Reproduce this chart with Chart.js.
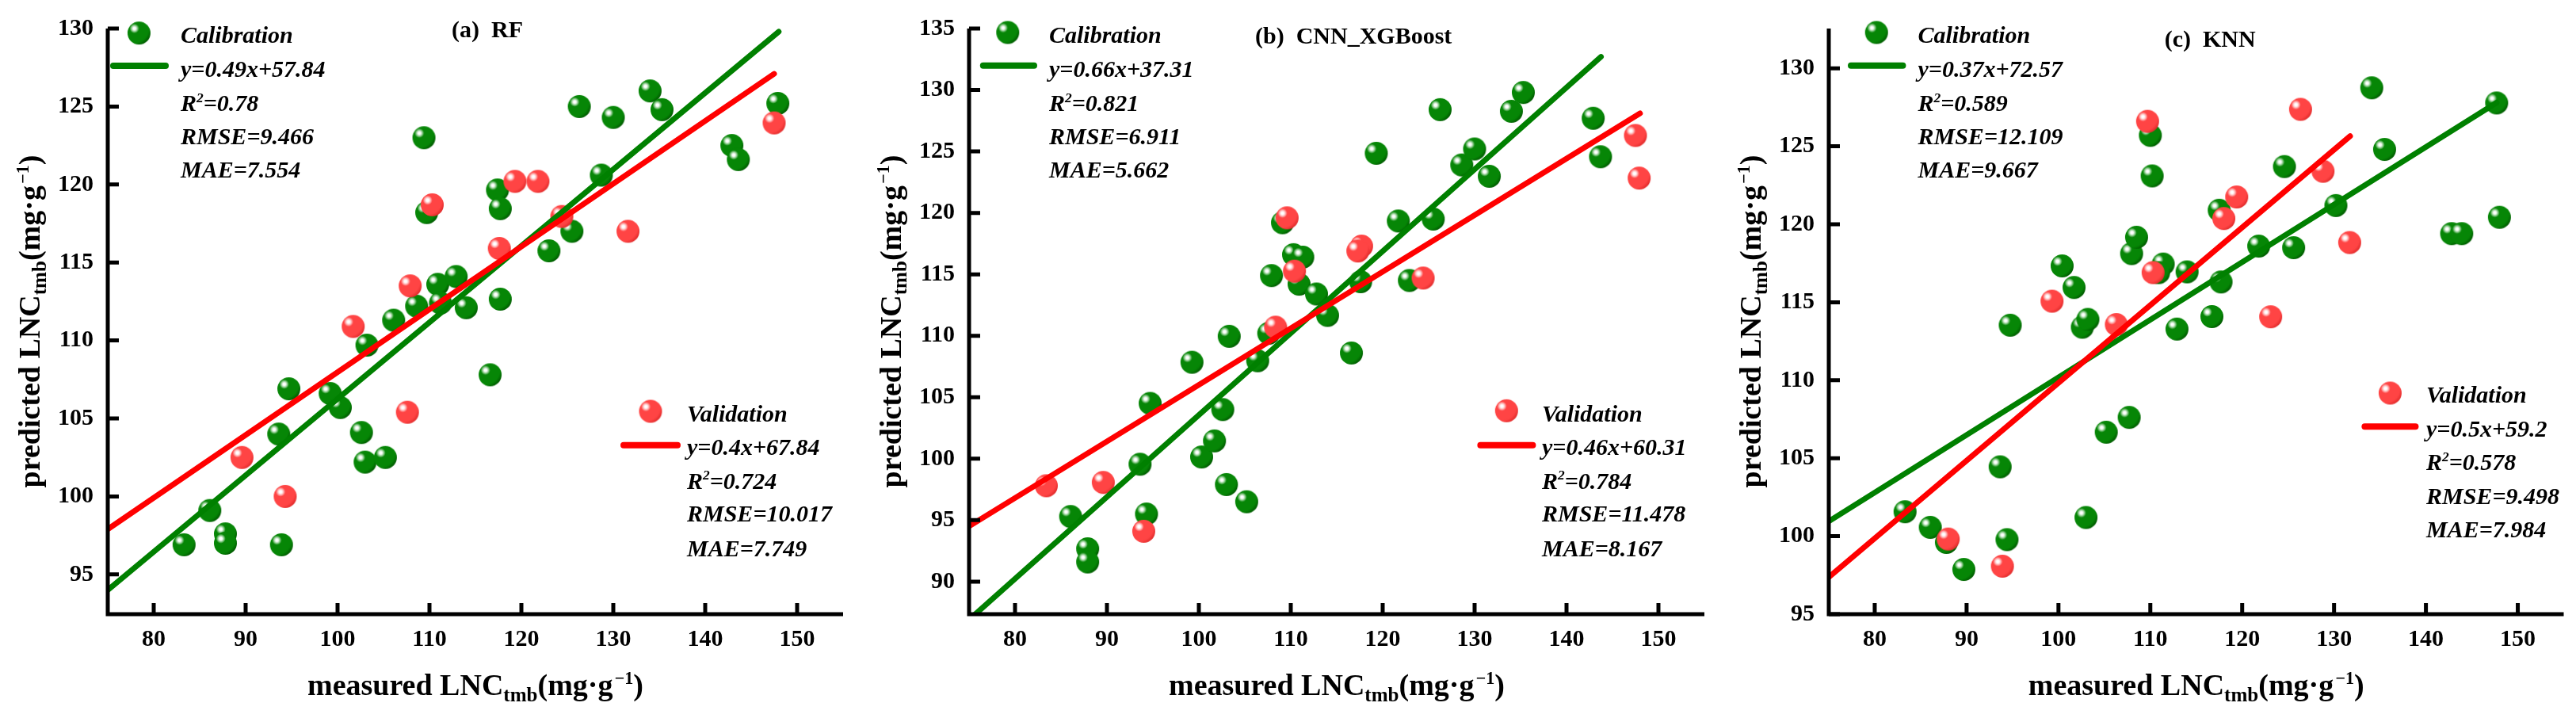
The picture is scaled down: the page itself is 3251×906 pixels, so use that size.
<!DOCTYPE html>
<html>
<head>
<meta charset="utf-8">
<title>LNC scatter</title>
<script src="https://cdn.jsdelivr.net/npm/chart.js@4.4.1/dist/chart.umd.min.js"></script>
<style>
  html, body { margin: 0; padding: 0; background: #fff; }
  body { width: 3251px; height: 906px; position: relative; overflow: hidden; }
  .panel { position: absolute; top: 0; height: 906px; }
</style>
</head>
<body>
<div class="panel" style="left:0px"><canvas id="chartA" width="1085" height="906"></canvas></div>
<div class="panel" style="left:1085px"><canvas id="chartB" width="1085" height="906"></canvas></div>
<div class="panel" style="left:2170px"><canvas id="chartC" width="1081" height="906"></canvas></div>
<script>
// ---------- data ----------
const xTicks = [80, 90, 100, 110, 120, 130, 140, 150];
const yTicksA = [95, 100, 105, 110, 115, 120, 125, 130];
const yTicksB = [90, 95, 100, 105, 110, 115, 120, 125, 130, 135];
const yTicksC = [95, 100, 105, 110, 115, 120, 125, 130];

// (a) RF
const calXA = [83.3, 86.1, 87.8, 87.8, 93.9, 93.6, 94.7, 99.2, 100.3, 102.6, 103.0, 105.2, 103.2, 106.1, 108.6, 110.9, 111.2, 112.9,
  114.0, 109.4, 109.7, 117.4, 117.7, 117.7, 116.6, 123.0, 125.5, 128.7, 126.3, 130.0, 134.0, 135.3, 142.9, 143.6, 147.9];
const calYA = [96.9, 99.1, 97.6, 97.0, 96.9, 104.0, 106.9, 106.6, 105.7, 104.1, 102.2, 102.5, 109.7, 111.3, 112.2, 113.6, 112.4, 114.1,
  112.1, 123.0, 118.2, 119.65, 118.45, 112.65, 107.8, 115.75, 117.0, 120.6, 125.0, 124.3, 126.0, 124.8, 122.5, 121.6, 125.2];
const valXA = [89.6, 94.3, 101.7, 107.6, 107.9, 110.3, 117.6, 119.3, 121.8, 124.4, 131.6, 147.5];
const valYA = [102.5, 100.0, 110.9, 105.4, 113.5, 118.7, 115.9, 120.2, 120.2, 117.95, 117.0, 123.95];
const calLineXA = [75, 148.0];
const calLineYA = [94.0, 129.8];
const valLineXA = [75, 147.5];
const valLineYA = [97.9, 127.1];
const calStatsA = ['y=0.49x+57.84', '0.78', '9.466', '7.554'];
const valStatsA = ['y=0.4x+67.84', '0.724', '10.017', '7.749'];

// (b) CNN_XGBoost
const calXB = [86.05, 87.9, 87.9, 93.6, 94.7, 94.3, 99.25, 100.3, 101.7, 102.6, 103.0, 105.2, 103.3, 106.4, 107.6, 107.9, 109.1, 110.3,
  111.3, 110.9, 112.8, 114.0, 116.6, 117.6, 122.9, 121.7, 125.5, 119.3, 126.25, 128.6, 130.0, 131.6, 134.0, 135.3, 142.9, 143.7];
const calYB = [95.3, 92.67, 91.6, 99.55, 104.5, 95.5, 107.85, 100.14, 101.45, 104.0, 97.9, 96.5, 109.96, 107.97, 110.2, 114.9, 119.2, 116.6,
  116.4, 114.2, 113.4, 111.66, 108.6, 114.4, 114.5, 119.34, 119.5, 124.85, 128.4, 123.9, 125.2, 122.98, 128.27, 129.8, 127.7, 124.57];
const valXB = [83.4, 89.6, 94.0, 108.35, 109.6, 110.4, 117.7, 117.3, 124.4, 147.5, 147.9];
const valYB = [97.8, 98.07, 94.1, 110.7, 119.6, 115.26, 117.3, 116.9, 114.7, 126.3, 122.83];
const calLineXB = [75, 143.75];
const calLineYB = [86.9, 132.7];
const valLineXB = [75, 148.0];
const valLineYB = [94.5, 128.1];
const calStatsB = ['y=0.66x+37.31', '0.821', '6.911', '5.662'];
const valStatsB = ['y=0.46x+60.31', '0.784', '11.478', '8.167'];

// (c) KNN
const calXC = [83.3, 86.05, 87.8, 89.7, 93.65, 94.4, 103.0, 105.2, 107.7, 94.75, 100.4, 101.7, 102.6, 103.2, 107.96, 108.5, 110.0, 110.2,
  111.4, 110.9, 114.0, 117.7, 121.8, 125.6, 130.2, 117.5, 124.6, 134.1, 135.5, 147.7, 142.8, 143.9, 148.0, 116.7, 112.9];
const calYC = [101.57, 100.57, 99.6, 97.87, 104.45, 99.78, 101.2, 106.67, 107.62, 113.53, 117.33, 115.95, 113.4, 113.9, 118.12, 119.17, 125.7, 123.1,
  117.45, 116.9, 116.95, 116.3, 118.6, 118.5, 121.2, 120.9, 123.7, 128.75, 124.8, 127.78, 119.4, 119.4, 120.45, 114.08, 113.28];
const valXC = [88.0, 93.9, 99.3, 106.3, 109.7, 110.3, 118.0, 119.4, 126.35, 128.8, 131.7, 123.1];
const valYC = [99.82, 98.08, 115.07, 113.57, 126.6, 116.9, 120.37, 121.75, 127.37, 123.4, 118.83, 114.07];
const calLineXC = [75, 147.7];
const calLineYC = [100.95, 127.8];
const valLineXC = [75, 131.75];
const valLineYC = [97.37, 125.65];
const calStatsC = ['y=0.37x+72.57', '0.589', '12.109', '9.667'];
const valStatsC = ['y=0.5x+59.2', '0.578', '9.498', '7.984'];

// ---------- look ----------
const SERIF = '"Liberation Serif", "Times New Roman", serif';
const GREEN = '#008000';
const RED = '#ff0000';
const BALL_R = 14.5;

function makeBall(base, dark, light) {
    const r = BALL_R;
    const dpr = window.devicePixelRatio || 1;
    const size = Math.ceil(r * 2 + 2);
    const c = document.createElement('canvas');
    c.width = size * dpr;
    c.height = size * dpr;
    c.style.width = size + 'px';
    c.style.height = size + 'px';
    const g = c.getContext('2d');
    g.scale(dpr, dpr);
    const cx = size / 2, cy = size / 2;
    const hx = cx - r * 0.4, hy = cy - r * 0.4;
    const grad = g.createRadialGradient(hx, hy, 0, hx, hy, r * 1.55);
    grad.addColorStop(0, '#ffffff');
    grad.addColorStop(0.07, '#ffffff');
    grad.addColorStop(0.15, light);
    grad.addColorStop(0.27, base);
    grad.addColorStop(0.8, base);
    grad.addColorStop(1, dark);
    g.fillStyle = grad;
    g.beginPath();
    g.arc(cx, cy, r, 0, Math.PI * 2);
    g.fill();
    return c;
}

const greenBall = makeBall('#068606', '#005800', '#a8d8a8');
const redBall = makeBall('#ff4444', '#e02a2a', '#ffc4c4');

function toPoints(xs, ys) {
    return xs.map((x, i) => ({ x: x, y: ys[i] }));
}

// draws a run of text pieces (normal / sub / sup) starting at x
function richWidth(ctx, parts, size, style) {
    let w = 0;
    parts.forEach(p => {
        const s = p.sub ? size * 0.66 : p.sup ? size * 0.58 : size;
        ctx.font = style + ' ' + s + 'px ' + SERIF;
        w += ctx.measureText(p.t).width + (p.gap || 0) * size;
    });
    return w;
}

function drawRich(ctx, parts, x, y, size, style) {
    ctx.textAlign = 'left';
    ctx.textBaseline = 'alphabetic';
    parts.forEach(p => {
        let s = size, dy = 0;
        if (p.sub) { s = size * 0.66; dy = size * 0.2; }
        if (p.sup) { s = size * 0.58; dy = -size * 0.38; }
        ctx.font = style + ' ' + s + 'px ' + SERIF;
        ctx.fillText(p.t, x, y + dy);
        x += ctx.measureText(p.t).width + (p.gap || 0) * size;
    });
}

function axisTitle(word) {
    return [{ t: word + ' LNC' }, { t: 'tmb', sub: true }, { t: '(mg\u00B7g', gap: 0.06 }, { t: '\u22121', sup: true }, { t: ')' }];
}

function drawLegend(ctx, left, lg, name, ball, color, stats) {
    ctx.drawImage(ball, left + lg.mx - BALL_R - 1, lg.my - BALL_R - 1, BALL_R * 2 + 2, BALL_R * 2 + 2);
    ctx.save();
    ctx.strokeStyle = color;
    ctx.lineWidth = 8;
    ctx.lineCap = 'round';
    ctx.beginPath();
    ctx.moveTo(left + lg.lx0 + 4, lg.ly);
    ctx.lineTo(left + lg.lx1 - 4, lg.ly);
    ctx.stroke();
    ctx.restore();
    ctx.fillStyle = '#000';
    const st = 'italic bold';
    drawRich(ctx, [{ t: name }], left + lg.tx, lg.ty, 30, st);
    drawRich(ctx, [{ t: stats[0] }], left + lg.tx, lg.sy[0], 30, st);
    drawRich(ctx, [{ t: 'R' }, { t: '2', sup: true }, { t: '=' + stats[1] }], left + lg.tx, lg.sy[1], 30, st);
    drawRich(ctx, [{ t: 'RMSE=' + stats[2] }], left + lg.tx, lg.sy[2], 30, st);
    drawRich(ctx, [{ t: 'MAE=' + stats[3] }], left + lg.tx, lg.sy[3], 30, st);
}

// axis lines, inward ticks, titles and the in-plot legends
const decorPlugin = {
    id: 'decor',
    afterDraw(chart, args, opts) {
        const ctx = chart.ctx;
        const a = chart.chartArea;
        const xs = chart.scales.x, ys = chart.scales.y;
        ctx.save();
        ctx.strokeStyle = '#000';
        ctx.lineWidth = 5;
        ctx.lineJoin = 'miter';
        ctx.beginPath();
        ctx.moveTo(a.left, a.top);
        ctx.lineTo(a.left, a.bottom);
        ctx.lineTo(a.right, a.bottom);
        ctx.stroke();
        ctx.beginPath();
        xTicks.forEach(v => {
            const px = xs.getPixelForValue(v);
            ctx.moveTo(px, a.bottom);
            ctx.lineTo(px, a.bottom - 14);
        });
        opts.yTicks.forEach(v => {
            const py = ys.getPixelForValue(v);
            ctx.moveTo(a.left, py);
            ctx.lineTo(a.left + 14, py);
        });
        ctx.stroke();

        ctx.fillStyle = '#000';
        // x axis title
        const xt = axisTitle('measured');
        const wx = richWidth(ctx, xt, 38, 'bold');
        drawRich(ctx, xt, (a.left + a.right) / 2 - wx / 2, 877, 38, 'bold');
        // y axis title
        const yt = axisTitle('predicted');
        const wy = richWidth(ctx, yt, 38, 'bold');
        ctx.save();
        ctx.translate(opts.yTitleX, (a.top + a.bottom) / 2);
        ctx.rotate(-Math.PI / 2);
        drawRich(ctx, yt, -wy / 2, 0, 38, 'bold');
        ctx.restore();

        // panel title
        ctx.font = 'bold 30px ' + SERIF;
        ctx.textAlign = 'left';
        ctx.textBaseline = 'alphabetic';
        ctx.fillText(opts.title, a.left + opts.titleX, opts.titleY);

        drawLegend(ctx, a.left, opts.cal, 'Calibration', greenBall, GREEN, opts.calStats);
        drawLegend(ctx, a.left, opts.val, 'Validation', redBall, RED, opts.valStats);
        ctx.restore();
    }
};

function makeChart(id, p) {
    const tickFont = { family: SERIF, size: 30, weight: 'bold' };
    return new Chart(document.getElementById(id), {
        type: 'scatter',
        data: {
            datasets: [
                { label: 'Calibration', data: toPoints(p.calX, p.calY), pointStyle: greenBall, pointRadius: BALL_R, order: 3 },
                { label: 'Validation', data: toPoints(p.valX, p.valY), pointStyle: redBall, pointRadius: BALL_R, order: 2 },
                { type: 'line', data: toPoints(p.calLineX, p.calLineY), borderColor: GREEN, borderWidth: 7,
                  borderCapStyle: 'round', pointRadius: 0, fill: false, order: 1 },
                { type: 'line', data: toPoints(p.valLineX, p.valLineY), borderColor: RED, borderWidth: 7,
                  borderCapStyle: 'round', pointRadius: 0, fill: false, order: 0 }
            ]
        },
        options: {
            responsive: false,
            animation: false,
            events: [],
            layout: { padding: { top: p.padTop, right: p.padRight, left: 0, bottom: 0 } },
            plugins: {
                legend: { display: false },
                tooltip: { enabled: false },
                decor: p.decor
            },
            scales: {
                x: {
                    type: 'linear', min: 75, max: 155,
                    afterBuildTicks: s => { s.ticks = xTicks.map(v => ({ value: v })); },
                    afterFit: s => { s.height = 131; },
                    grid: { display: false, drawTicks: false },
                    border: { display: false },
                    ticks: { font: tickFont, color: '#000', padding: 14, maxRotation: 0 }
                },
                y: {
                    type: 'linear', min: p.yMin, max: p.yMax,
                    afterBuildTicks: s => { s.ticks = p.yTicks.map(v => ({ value: v })); },
                    afterFit: s => { s.width = p.yWidth; },
                    grid: { display: false, drawTicks: false },
                    border: { display: false },
                    ticks: { font: tickFont, color: '#000', padding: 18 }
                }
            }
        },
        plugins: [decorPlugin]
    });
}

makeChart('chartA', {
    calX: calXA, calY: calYA, valX: valXA, valY: valYA,
    calLineX: calLineXA, calLineY: calLineYA, valLineX: valLineXA, valLineY: valLineYA,
    yMin: 92.45, yMax: 130, yTicks: yTicksA, yWidth: 136, padTop: 23, padRight: 21,
    decor: {
        yTicks: yTicksA, yTitleX: 50, title: '(a)  RF', titleX: 434, titleY: 47,
        calStats: calStatsA, valStats: valStatsA,
        cal: { mx: 39.4, my: 41.7, tx: 92, ty: 54, lx0: 3, lx1: 77, ly: 83, sy: [96.7, 140, 181.7, 224] },
        val: { mx: 685, my: 519, tx: 731, ty: 531.7, lx0: 647, lx1: 723, ly: 561.7, sy: [574, 616.7, 658.3, 701.7] }
    }
});

makeChart('chartB', {
    calX: calXB, calY: calYB, valX: valXB, valY: valYB,
    calLineX: calLineXB, calLineY: calLineYB, valLineX: valLineXB, valLineY: valLineYB,
    yMin: 87.35, yMax: 135, yTicks: yTicksB, yWidth: 138, padTop: 24, padRight: 19,
    decor: {
        yTicks: yTicksB, yTitleX: 51.5, title: '(b)  CNN_XGBoost', titleX: 361, titleY: 55,
        calStats: calStatsB, valStats: valStatsB,
        cal: { mx: 48.8, my: 41, tx: 101, ty: 54, lx0: 13.8, lx1: 86, ly: 82.7, sy: [96.7, 140, 181.7, 224] },
        val: { mx: 678.3, my: 518.3, tx: 723, ty: 531.7, lx0: 641.4, lx1: 715.4, ly: 561.7, sy: [574, 616.7, 658.3, 701.7] }
    }
});

makeChart('chartC', {
    calX: calXC, calY: calYC, valX: valXC, valY: valYC,
    calLineX: calLineXC, calLineY: calLineYC, valLineX: valLineXC, valLineY: valLineYC,
    yMin: 95, yMax: 132.55, yTicks: yTicksC, yWidth: 138, padTop: 23, padRight: 13,
    decor: {
        yTicks: yTicksC, yTitleX: 52, title: '(c)  KNN', titleX: 423.7, titleY: 59,
        calStats: calStatsC, valStats: valStatsC,
        cal: { mx: 60.2, my: 41, tx: 112.5, ty: 54, lx0: 24, lx1: 97.4, ly: 82.7, sy: [96.7, 140, 181.7, 224] },
        val: { mx: 708.4, my: 496, tx: 754, ty: 508.3, lx0: 672.4, lx1: 744.4, ly: 538.3, sy: [550.7, 593.3, 636, 678.3] }
    }
});
</script>
</body>
</html>
